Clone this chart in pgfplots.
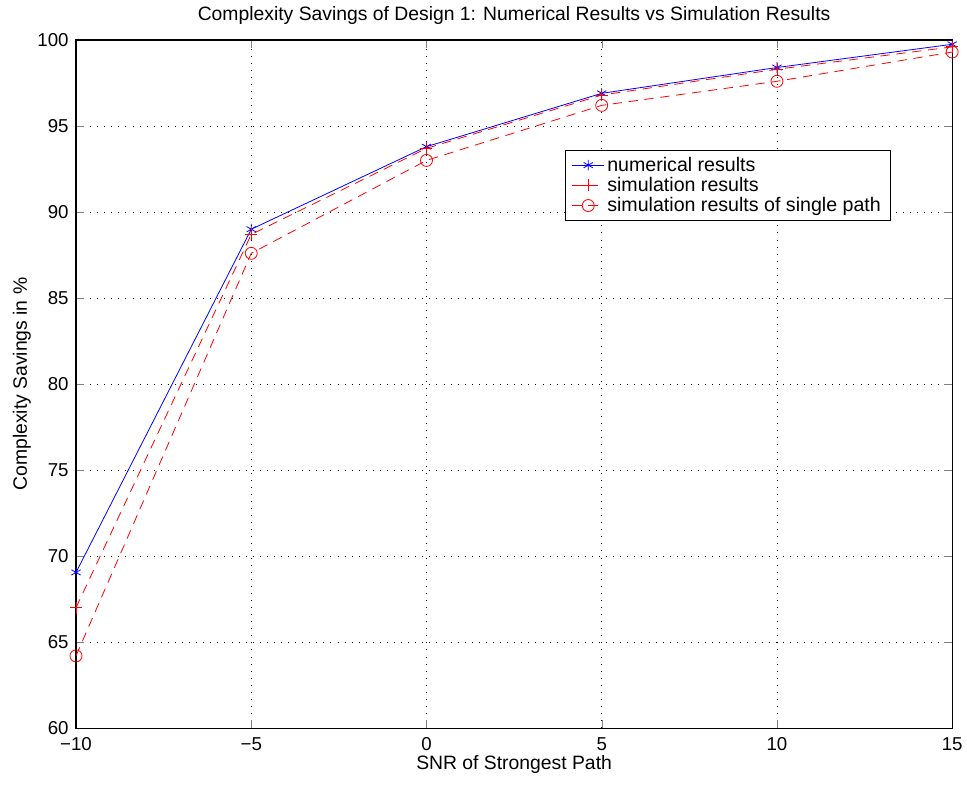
\documentclass[border=0pt]{standalone}
\usepackage{fontspec}
\setmainfont{Liberation Sans}
\usepackage{pgfplots}
\pgfplotsset{compat=1.18}

\begin{document}
\begin{tikzpicture}
\begin{axis}[
  scale only axis,
  width=657pt, height=516pt,
  xmin=-10, xmax=15, ymin=60, ymax=100,
  xtick={-10,-5,...,15}, ytick={60,65,...,100},
  xticklabels={−10,−5,0,5,10,15},
  yticklabels={60,65,70,75,80,85,90,95,100},
  grid=major, grid style={black, line width=0.5pt, dash pattern=on 0.7pt off 4.6pt},
  tick align=inside, tick pos=both,
  major tick length=6pt,
  axis line style={line width=0.8pt},
  tick label style={font=\fontsize{14}{16}\selectfont},
  xticklabel style={yshift=-3.5pt},
  yticklabel style={xshift=-2pt},
  label style={font=\fontsize{14.5}{16}\selectfont},
  title style={font=\fontsize{14.5}{16}\selectfont, yshift=2pt},
  title={Complexity Savings of Design 1: Numerical Results vs Simulation Results},
  xlabel={SNR of Strongest Path},
  ylabel={Complexity Savings in \%},
  xlabel style={yshift=3pt},
  ylabel shift=-2pt,
  legend style={at={(0.558,0.84)}, anchor=north west, draw=black,
    font=\fontsize{14.7}{17}\selectfont, cells={anchor=west},
    row sep=-1pt, inner xsep=5pt, inner ysep=3pt},
  legend cell align=left,
  legend image code/.code={
    \draw[mark repeat=2, mark phase=2] plot coordinates {(0pt,0pt) (12pt,0pt) (24pt,0pt)};},
]
\addplot[blue, mark=asterisk, mark size=4pt, line width=0.6pt] coordinates {
  (-10,69.05) (-5,89.0) (0,93.8) (5,96.9) (10,98.4) (15,99.75)};
\addlegendentry{numerical results}
\addplot[red, dash pattern=on 7pt off 5pt, mark=+, mark size=4.5pt, mark options={solid}, line width=0.6pt] coordinates {
  (-10,67.0) (-5,88.7) (0,93.7) (5,96.8) (10,98.3) (15,99.6)};
\addlegendentry{simulation results}
\addplot[red, dash pattern=on 7pt off 5pt, mark=o, mark size=4.5pt, mark options={solid}, line width=0.6pt] coordinates {
  (-10,64.2) (-5,87.6) (0,93.0) (5,96.2) (10,97.6) (15,99.3)};
\addlegendentry{simulation results of single path}
\end{axis}
\path ([xshift=-57pt,yshift=-42pt]current axis.south west)
      ([xshift=11pt,yshift=30pt]current axis.north east);
\end{tikzpicture}
\end{document}
